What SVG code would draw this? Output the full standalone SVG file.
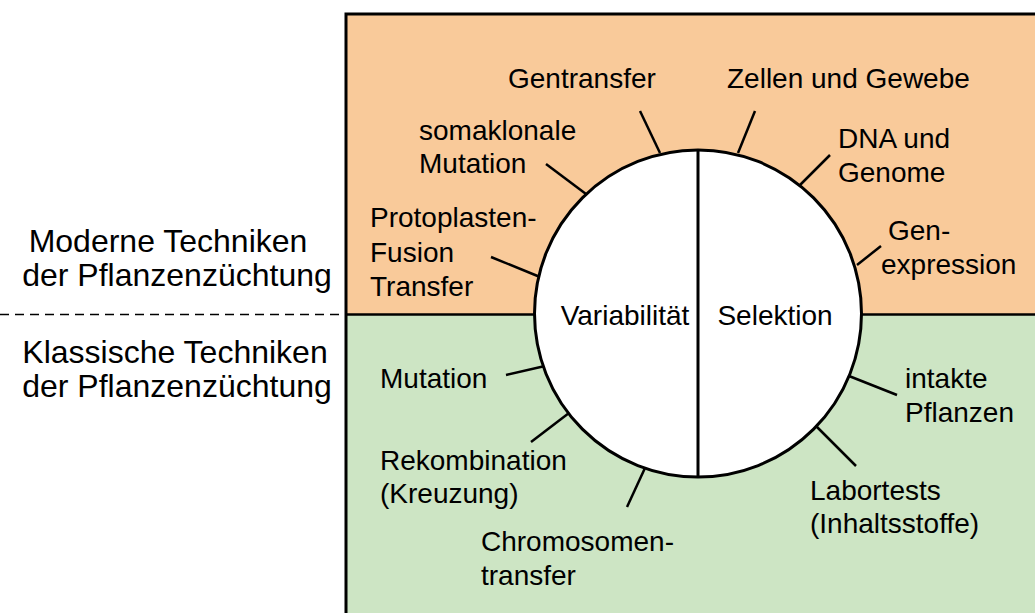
<svg xmlns="http://www.w3.org/2000/svg" width="1035" height="613" viewBox="0 0 1035 613">
<style>
text{font-family:"Liberation Sans",Arial,sans-serif;font-size:28px;fill:#000}
.side{font-size:32px}
.tick{stroke:#000;stroke-width:2.5;fill:none}
</style>
<rect width="1035" height="613" fill="#fff"/>
<g id="zones">
<rect x="346" y="14" width="720" height="300" fill="#F9CA9A"/>
<rect x="346" y="314" width="720" height="320" fill="#CDE5C4"/>
<rect x="346" y="14" width="720" height="620" fill="none" stroke="#000" stroke-width="3"/>
<line x1="346" y1="314.5" x2="1035" y2="314.5" stroke="#000" stroke-width="2.5"/>
</g>
<g id="connectors">
<line x1="0" y1="314.5" x2="344" y2="314.5" stroke="#000" stroke-width="1.5" stroke-dasharray="9,6"/>
<line class="tick" x1="640" y1="111" x2="660" y2="153"/>
<line class="tick" x1="755" y1="111" x2="738" y2="153"/>
<line class="tick" x1="830" y1="155" x2="800" y2="185"/>
<line class="tick" x1="881" y1="246" x2="857" y2="265"/>
<line class="tick" x1="546" y1="164" x2="586" y2="194"/>
<line class="tick" x1="491" y1="257" x2="540" y2="277"/>
<line class="tick" x1="506" y1="375" x2="545" y2="366"/>
<line class="tick" x1="531" y1="442" x2="569" y2="413"/>
<line class="tick" x1="627" y1="507" x2="645" y2="468"/>
<line class="tick" x1="897" y1="395" x2="849" y2="376"/>
<line class="tick" x1="856" y1="466" x2="816" y2="426"/>
</g>
<g id="circle">
<circle cx="698" cy="313.5" r="163.5" fill="#fff" stroke="#000" stroke-width="3"/>
<line x1="698" y1="150" x2="698" y2="477" stroke="#000" stroke-width="3"/>
</g>
<g id="variabilitaet"><text x="625" y="325" text-anchor="middle" font-size="26">Variabilität</text></g>
<g id="selektion"><text x="775" y="325" text-anchor="middle">Selektion</text></g>
<g id="gentransfer"><text x="508" y="88">Gentransfer</text></g>
<g id="zellen"><text x="727" y="88">Zellen und Gewebe</text></g>
<g id="somaklonale"><text x="419" y="140">somaklonale</text><text x="419" y="173">Mutation</text></g>
<g id="dna"><text x="838" y="148">DNA und</text><text x="838" y="182">Genome</text></g>
<g id="protoplasten"><text x="370" y="227">Protoplasten-</text><text x="370" y="262">Fusion</text><text x="370" y="296">Transfer</text></g>
<g id="genexpression"><text x="888" y="240">Gen-</text><text x="881" y="274">expression</text></g>
<g id="mutation"><text x="380" y="388">Mutation</text></g>
<g id="intakte"><text x="905" y="388">intakte</text><text x="905" y="422">Pflanzen</text></g>
<g id="rekombination"><text x="380" y="470">Rekombination</text><text x="380" y="503">(Kreuzung)</text></g>
<g id="labortests"><text x="810" y="500">Labortests</text><text x="810" y="533">(Inhaltsstoffe)</text></g>
<g id="chromosomen"><text x="481" y="551">Chromosomen-</text><text x="481" y="585">transfer</text></g>
<g id="moderne"><text class="side" x="168" y="252" text-anchor="middle">Moderne Techniken</text><text class="side" x="177" y="286" text-anchor="middle">der Pflanzenzüchtung</text></g>
<g id="klassische"><text class="side" x="175" y="363" text-anchor="middle">Klassische Techniken</text><text class="side" x="177" y="397" text-anchor="middle">der Pflanzenzüchtung</text></g>
</svg>
